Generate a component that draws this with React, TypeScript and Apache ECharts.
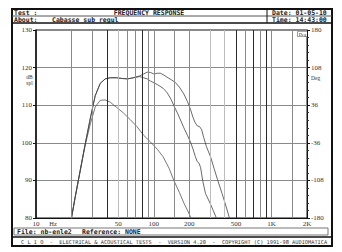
import React, { useEffect, useRef } from "react";
import * as echarts from "echarts";

// ---- data ----
const freqA = [19, 20, 21.5, 23.7, 26.1, 28.9, 31.8, 35.1, 38.7, 42.7, 48, 54, 60, 67, 76, 82, 88, 94, 100, 107, 114, 122, 132, 142, 153, 165, 180, 193, 205, 215, 225, 234, 245, 255, 265, 280, 304, 325, 347, 380, 410, 436, 470];
const dbA = [77, 80, 85.5, 92.5, 99.5, 106.5, 112.5, 115.8, 117, 117.3, 117.3, 117.1, 117.0, 117.3, 117.8, 118.3, 118.8, 118.7, 118.3, 118.5, 118.5, 118.0, 117.3, 116.7, 116.0, 114.8, 113, 111, 108.9, 106.8, 105.3, 104.5, 104.3, 103.5, 101.5, 99, 96.2, 93.2, 90.3, 86.5, 83.2, 80.3, 76.5];

const freqB = [19, 20, 21.5, 23.7, 26.1, 28.9, 31.8, 35.1, 38.7, 42.7, 48, 54, 60, 67, 76, 82, 88, 94, 107, 120, 130, 140, 150, 160, 170, 180, 193, 205, 215, 225, 234, 242, 250, 260, 275, 300, 320, 336, 360];
const dbB = [77, 80, 85.5, 92.5, 99.5, 106.5, 112.5, 115.8, 117, 117.3, 117.3, 117.1, 117.0, 117.3, 117.6, 117.3, 117.0, 116.4, 115.5, 114.5, 113.3, 111.6, 109.5, 107.7, 105.8, 104, 102, 100.2, 98.4, 96.4, 95, 94.6, 93.4, 90, 86.5, 84, 82, 80.4, 77.5];

const freqC = [19, 20, 21.5, 23.7, 26.1, 28.9, 31.8, 35.1, 38.7, 42.7, 48, 55, 63, 72, 82, 94, 107, 120, 135, 148, 165, 180, 195, 205, 220];
const dbC = [77, 80, 85.5, 92.5, 99.2, 105, 109.5, 111.3, 111.4, 110.8, 109.5, 108, 106.2, 104.3, 102, 100.2, 98.3, 96.3, 93.2, 90, 86.8, 84, 81.8, 80.3, 77.5];

const gridFreqs = [20, 30, 40, 50, 60, 70, 80, 90, 100, 150, 200, 300, 400, 500, 600, 700, 800, 900, 1000, 1500];
const labelFreqs = [10, 50, 100, 200, 500, 1000, 2000];
const labelTexts = ["10", "50", "100", "200", "500", "1K", "2K"];
const phaseLabels = ["-180", "-108", "-36", "36", "108", "180"];

// ---- styles ----
const darkLines = new Set([40, 80, 500, 700, 900]);
const lightLines = new Set([50, 300, 400]);
const lineShade = (f: number) => (darkLines.has(f) ? "#2a2a2a" : lightLines.has(f) ? "#bdbdbd" : "#8a8a8a");
const MONO = "DejaVu Sans Mono";
const SERIF = "Liberation Serif";

const zip = (xs: number[], ys: number[]) => xs.map((x, i) => [x, ys[i]]);

function txt(x: number, y: number, text: string, opts: any = {}) {
  return {
    type: "text",
    x,
    y,
    silent: true,
    style: {
      text,
      fill: opts.fill || "#222",
      fontSize: opts.fontSize || 6.5,
      fontFamily: opts.fontFamily || MONO,
      fontWeight: opts.fontWeight || "bold",
      align: opts.align || "left",
      verticalAlign: "middle",
      backgroundColor: opts.backgroundColor,
      borderColor: opts.borderColor,
      borderWidth: opts.borderWidth,
      padding: opts.padding,
    },
  };
}

export default function App() {
  const ref = useRef<HTMLDivElement>(null);
  useEffect(() => {
    if (!ref.current) return;
    const chart = echarts.init(ref.current, null, { renderer: "svg" });

    const allMarks = Array.from(new Set([...gridFreqs, ...labelFreqs])).sort((a, b) => a - b);
    const markData = allMarks.map((f) => {
      const li = labelFreqs.indexOf(f);
      const isGrid = gridFreqs.indexOf(f) >= 0;
      return {
        xAxis: f,
        lineStyle: { color: isGrid ? lineShade(f) : "rgba(0,0,0,0)", width: 1, type: "solid" },
        label:
          li >= 0
            ? {
                show: true,
                position: "start",
                distance: 2,
                formatter: labelTexts[li],
                fontSize: 7,
                fontFamily: SERIF,
                color: "#333",
                opacity: 1,
              }
            : { show: false },
      };
    });

    const curveStyle = (color: string) => ({
      type: "line",
      showSymbol: false,
      symbol: "none",
      clip: true,
      z: 3,
      silent: true,
      lineStyle: { color, width: 0.8 },
    });

    chart.setOption({
      animation: false,
      backgroundColor: "#fff",
      grid: { left: 36, right: 35, top: 30, bottom: 34, show: true, borderColor: "#111", borderWidth: 1 },
      xAxis: {
        type: "log",
        logBase: 10,
        min: 10,
        max: 2000,
        axisLine: { show: true, lineStyle: { color: "#111", width: 1 } },
        axisTick: { show: false },
        axisLabel: { show: false },
        splitLine: { show: false },
      },
      yAxis: [
        {
          type: "value",
          min: 80,
          max: 130,
          interval: 10,
          position: "left",
          axisLine: { show: true, lineStyle: { color: "#111", width: 1.5 } },
          axisTick: { show: true, length: 3, lineStyle: { color: "#111" } },
          axisLabel: { margin: 4, fontSize: 7, fontFamily: SERIF, color: "#333" },
          splitLine: { show: true, lineStyle: { color: "#8a8a8a", width: 1 } },
        },
        {
          type: "value",
          min: 0,
          max: 5,
          interval: 1,
          position: "right",
          axisLine: { show: true, lineStyle: { color: "#111", width: 1 } },
          axisTick: { show: true, length: 3, lineStyle: { color: "#111" } },
          minorTick: { show: true, splitNumber: 5, length: 2, lineStyle: { color: "#333" } },
          axisLabel: {
            margin: 4,
            fontSize: 7,
            fontFamily: SERIF,
            color: "#333",
            formatter: (v: number) => phaseLabels[Math.round(v)],
          },
          splitLine: { show: false },
        },
      ],
      series: [
        {
          type: "line",
          data: [],
          z: 1,
          silent: true,
          markLine: {
            silent: true,
            animation: false,
            symbol: ["none", "none"],
            label: { show: false },
            data: markData,
          },
        },
        { ...curveStyle("#555"), name: "C", data: zip(freqC, dbC) },
        { ...curveStyle("#444"), name: "B", data: zip(freqB, dbB) },
        { ...curveStyle("#444"), name: "A", data: zip(freqA, dbA) },
      ],
      graphic: [
        { type: "rect", silent: true, shape: { x: 12, y: 9, width: 320, height: 237 }, style: { fill: "none", stroke: "#111", lineWidth: 2 } },
        { type: "line", silent: true, shape: { x1: 12, y1: 16, x2: 332, y2: 16 }, style: { stroke: "#555", lineWidth: 1 } },
        { type: "line", silent: true, shape: { x1: 12, y1: 23, x2: 332, y2: 23 }, style: { stroke: "#111", lineWidth: 1.5 } },
        { type: "line", silent: true, shape: { x1: 267, y1: 9, x2: 267, y2: 23 }, style: { stroke: "#111", lineWidth: 1 } },
        txt(14, 12.8, "Test :"),
        txt(149, 12.8, "FREQUENCY RESPONSE", { align: "center" }),
        txt(272, 12.8, "Date: 01-05-10"),
        txt(14, 19.6, "About:"),
        txt(52, 19.6, "Cabasse sub regul"),
        txt(272, 19.6, "Time: 14:43:00"),
        { type: "rect", silent: true, shape: { x: 14, y: 228, width: 314, height: 7 }, style: { fill: "none", stroke: "#777", lineWidth: 1 } },
        txt(17, 231.6, "File: nb-enle2"),
        txt(82, 231.6, "Reference: NONE"),
        { type: "line", silent: true, shape: { x1: 12, y1: 237, x2: 332, y2: 237 }, style: { stroke: "#111", lineWidth: 1.5 } },
        txt(21, 241.6, "C L I O  -  ELECTRICAL & ACOUSTICAL TESTS  -  VERSION 4.20  -  COPYRIGHT (C) 1991-98 AUDIOMATICA", { fontSize: 5.3, fontWeight: "normal", fill: "#333" }),
        txt(53, 223.6, "Hz", { fontFamily: SERIF, fontWeight: "normal", fontSize: 6.5, fill: "#333", align: "center" }),
        txt(29.5, 77, "dB", { fontFamily: SERIF, fontWeight: "normal", fontSize: 5.5, fill: "#333", align: "center" }),
        txt(29.5, 82.5, "spl", { fontFamily: SERIF, fontWeight: "normal", fontSize: 5.5, fill: "#333", align: "center" }),
        txt(311, 78, "Deg", { fontFamily: SERIF, fontWeight: "normal", fontSize: 5.5, fill: "#333" }),
        txt(302.5, 34, "Deg", { fontFamily: SERIF, fontWeight: "normal", fontSize: 4.5, fill: "#333", align: "center", backgroundColor: "#fff", borderColor: "#555", borderWidth: 0.5, padding: [0, 1] }),
      ],
    });
    return () => chart.dispose();
  }, []);
  return <div ref={ref} style={{ position: "fixed", left: 0, top: 0, width: 342, height: 252, background: "#fff" }} />;
}
